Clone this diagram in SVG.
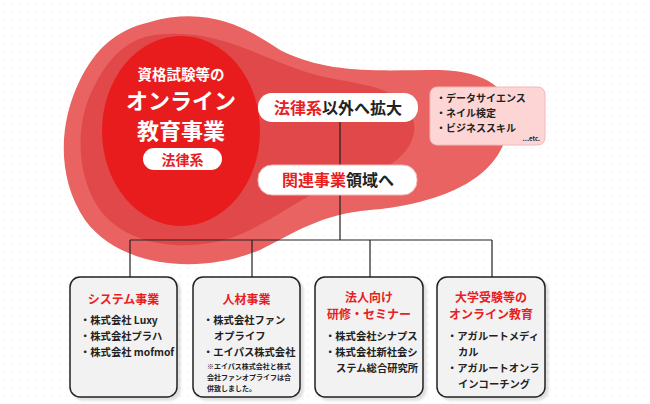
<svg xmlns="http://www.w3.org/2000/svg" width="650" height="404" viewBox="0 0 650 404">
<defs>
<pattern id="dots" width="8" height="8" patternUnits="userSpaceOnUse"><circle cx="4" cy="4" r="0.6" fill="#ddd"/></pattern>
<filter id="sh" x="-10%" y="-10%" width="130%" height="130%"><feDropShadow dx="3" dy="3" stdDeviation="1" flood-color="#000" flood-opacity="0.12"/></filter>
</defs>
<style>
text{font-family:"Noto Sans CJK JP","Noto Sans",sans-serif;font-weight:bold}
.w{fill:#fff}.r{fill:#e8201f}.k{fill:#222}
.box{fill:#f2f2f2;stroke:#222;stroke-width:1.5}
.ln{stroke:#222;stroke-width:1.2;fill:none}
.it{font-size:10.3px;fill:#222}
.hd{font-size:12px;fill:#e8201f;text-anchor:middle}
</style>
<rect width="650" height="404" fill="#fff"/>
<rect width="650" height="404" fill="url(#dots)"/>
<g id="blob">
<path d="M150,22 C210,5 250,30 280,50 C330,75 380,70 440,70 C500,72 520,100 505,140 C490,185 430,205 370,210 C320,215 300,230 260,250 C200,275 120,268 85,220 C55,175 60,120 80,80 C95,50 115,30 150,22 Z" fill="#e86361"/>
<path d="M155,35 C215,28 255,55 300,70 C340,85 390,80 410,110 C425,140 400,170 350,180 C310,190 290,210 250,230 C200,255 130,250 100,210 C75,175 75,120 95,85 C110,55 130,38 155,35 Z" fill="#e0484a"/>
<ellipse cx="181" cy="131" rx="79" ry="95" fill="#e81c1c"/>
<text class="w" x="181" y="80" font-size="14.5" text-anchor="middle">資格試験等の</text>
<text class="w" x="181" y="109" font-size="22" text-anchor="middle">オンライン</text>
<text class="w" x="181" y="139" font-size="22" text-anchor="middle">教育事業</text>
<rect x="143" y="148" width="79" height="22" rx="11" fill="#fff"/>
<text class="r" x="182.5" y="165" font-size="14" text-anchor="middle">法律系</text>
</g>
<g id="connectors">
<path class="ln" d="M340,122 V165 M340,195 V240 M130,240 H492 M130,240 V277 M252,240 V277 M370,240 V277 M492,240 V277"/>
</g>
<g id="expand">
<rect x="258" y="93" width="160" height="29" rx="14" fill="#fff"/>
<text x="338" y="114" font-size="16" text-anchor="middle"><tspan class="r">法律系</tspan><tspan class="k">以外へ拡大</tspan></text>
</g>
<g id="others">
<rect x="430" y="87" width="115" height="58" rx="7" fill="#fdd5d5" stroke="#f2b8b8"/>
<text class="k" x="436" y="102" font-size="10">・データサイエンス</text>
<text class="k" x="436" y="117" font-size="10">・ネイル検定</text>
<text class="k" x="436" y="132" font-size="10">・ビジネススキル</text>
<text class="k" x="540" y="141" font-size="6" text-anchor="end">…etc.</text>
</g>
<g id="related">
<rect x="258" y="165" width="159" height="30" rx="14" fill="#fff" stroke="#f5b5b5"/>
<text x="338" y="186" font-size="16" text-anchor="middle"><tspan class="r">関連事業</tspan><tspan class="k">領域へ</tspan></text>
</g>
<g id="n1">
<rect class="box" x="70" y="277" width="107" height="120" rx="10" filter="url(#sh)"/>
<text class="hd" x="123.5" y="304">システム事業</text>
<text class="it" x="80" y="324">・株式会社 Luxy</text>
<text class="it" x="80" y="340">・株式会社プラハ</text>
<text class="it" x="80" y="356">・株式会社 mofmof</text>
</g>
<g id="n2">
<rect class="box" x="193" y="277" width="107" height="120" rx="10" filter="url(#sh)"/>
<text class="hd" x="246.5" y="304">人材事業</text>
<text class="it" x="203" y="324">・株式会社ファン</text>
<text class="it" x="214" y="340">オプライフ</text>
<text class="it" x="203" y="356">・エイパス株式会社</text>
<text class="k" x="207" y="369" font-size="7">※エイパス株式会社と株式</text>
<text class="k" x="207" y="380" font-size="7">会社ファンオプライフは合</text>
<text class="k" x="207" y="391" font-size="7">併致しました。</text>
</g>
<g id="n3">
<rect class="box" x="315" y="277" width="108" height="120" rx="10" filter="url(#sh)"/>
<text class="hd" x="369" y="302">法人向け</text>
<text class="hd" x="369" y="319">研修・セミナー</text>
<text class="it" x="325" y="340">・株式会社シナプス</text>
<text class="it" x="325" y="356">・株式会社新社会シ</text>
<text class="it" x="336" y="372">ステム総合研究所</text>
</g>
<g id="n4">
<rect class="box" x="437" y="277" width="108" height="120" rx="10" filter="url(#sh)"/>
<text class="hd" x="491" y="302">大学受験等の</text>
<text class="hd" x="491" y="319">オンライン教育</text>
<text class="it" x="447" y="340">・アガルートメディ</text>
<text class="it" x="458" y="356">カル</text>
<text class="it" x="447" y="372">・アガルートオンラ</text>
<text class="it" x="458" y="388">インコーチング</text>
</g>
</svg>
